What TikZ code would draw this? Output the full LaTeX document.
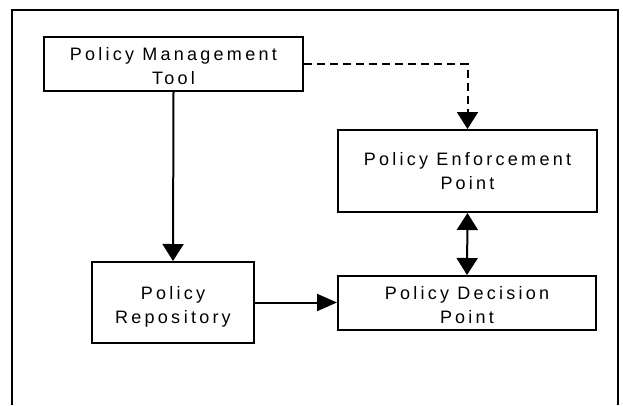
\documentclass[tikz,border=0pt]{standalone}
\usepackage{fontspec}
\setmainfont{Liberation Sans}[LetterSpace=18]
\usetikzlibrary{arrows.meta}
\newcommand{\gp}{\hspace{0.2em}}
\newcommand{\lift}[1]{\rule{0pt}{#1}}
\begin{document}
\begin{tikzpicture}[x=1pt,y=-1pt,
  box/.style={draw,line width=2pt,rectangle,inner sep=0pt,align=center,
    font=\fontsize{18}{24}\selectfont},
  tip/.tip={Triangle[length=17pt,width=21pt]},
  arr/.style={line width=2pt,-tip},
  dbl/.style={line width=2pt,tip-tip},
  dsh/.style={line width=2pt,dash pattern=on 8pt off 5pt,-tip}]
\useasboundingbox (0,0) rectangle (623,405);
\draw[line width=2pt] (12,405) -- (12,10) -- (618,10) -- (618,405);
\node[box,minimum width=259pt,minimum height=54pt] (pmt) at (173.5,64) {\lift{17pt}Policy Managem\gp ent\\Tool};
\node[box,minimum width=259pt,minimum height=82pt] (pep) at (467.5,171) {Policy Enforcem\gp ent\\Point};
\node[box,minimum width=162pt,minimum height=81pt] (pr) at (173,302.5) {\lift{22pt}Policy\\Repos\gp itory};
\node[box,minimum width=258pt,minimum height=54pt] (pdp) at (467,303) {\lift{17pt}Policy Decision\\Point};
\draw[arr] (pmt.south) -- (pr.north);
\draw[dsh] (pmt.east) -| (pep.north);
\draw[dbl] (pep.south) -- (pdp.north);
\draw[line width=2pt,-{Triangle[length=20pt,width=17pt]}] (pr.east) -- (pr.east -| pdp.west);
\end{tikzpicture}
\end{document}
